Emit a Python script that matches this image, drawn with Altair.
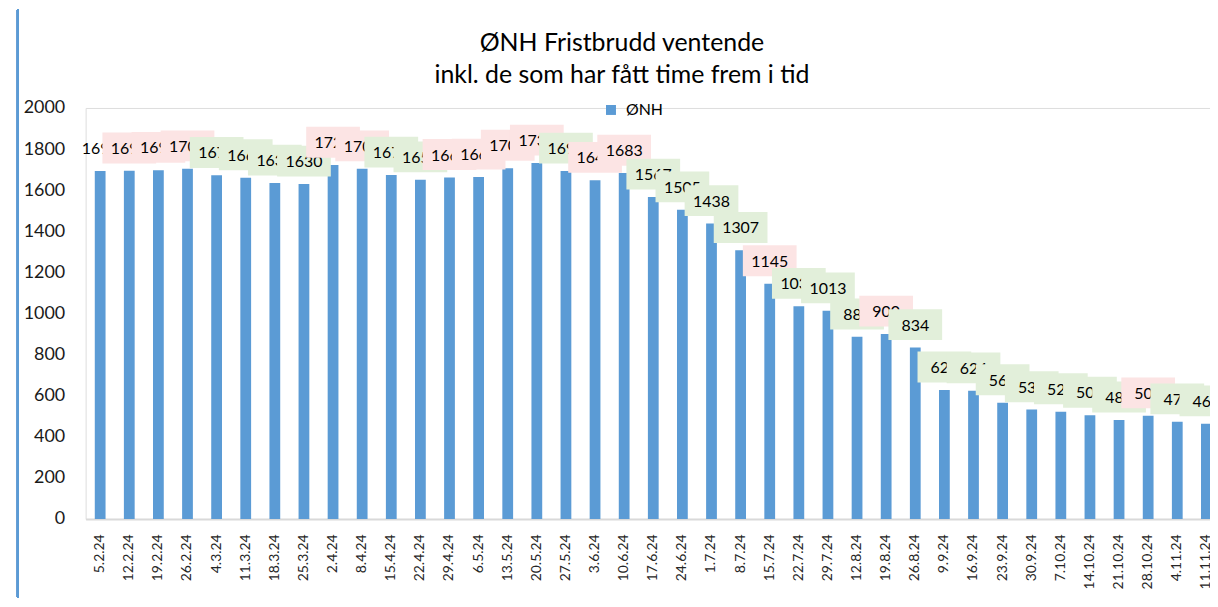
import altair as alt
import pandas as pd

dates = ["5.2.24", "12.2.24", "19.2.24", "26.2.24", "4.3.24", "11.3.24", "18.3.24", "25.3.24",
         "2.4.24", "8.4.24", "15.4.24", "22.4.24", "29.4.24", "6.5.24", "13.5.24", "20.5.24",
         "27.5.24", "3.6.24", "10.6.24", "17.6.24", "24.6.24", "1.7.24", "8.7.24", "15.7.24",
         "22.7.24", "29.7.24", "12.8.24", "19.8.24", "26.8.24", "9.9.24", "16.9.24", "23.9.24",
         "30.9.24", "7.10.24", "14.10.24", "21.10.24", "28.10.24", "4.11.24", "11.11.24"]

values = [1693, 1694, 1697, 1704, 1672, 1661, 1635, 1630,
          1722, 1704, 1674, 1651, 1662, 1664, 1707, 1732,
          1693, 1648, 1683, 1567, 1505, 1438, 1307, 1145,
          1035, 1013, 886, 900, 834, 628, 624, 566,
          532, 522, 505, 482, 502, 473, 463]

# label background per point: none / pink / green
label_bg = ["none", "pink", "pink", "pink", "green", "green", "green", "green",
            "pink", "pink", "green", "green", "pink", "pink", "pink", "pink",
            "green", "pink", "pink", "green", "green", "green", "green", "pink",
            "green", "green", "green", "pink", "green", "green", "green", "green",
            "green", "green", "green", "green", "pink", "green", "green"]

series_name = "ØNH"
title_lines = ["ØNH Fristbrudd ventende", "inkl. de som har fått time frem i tid"]
y_ticks = [0, 200, 400, 600, 800, 1000, 1200, 1400, 1600, 1800, 2000]

bg_colors = {"pink": "#FCE4E4", "green": "#E2EFDA"}
bar_color = "#5B9BD5"
FONT = "Lato"

df = pd.DataFrame({
    "i": list(range(len(dates))),
    "dato": dates,
    "verdi": values,
    "bg": label_bg,
    "serie": [series_name] * len(dates),
})

W = 1130
H = 413

x_enc = alt.X(
    "dato:N", sort=dates, title=None,
    scale=alt.Scale(range=[0, 1141], paddingInner=0.63, paddingOuter=0.315),
    axis=alt.Axis(labelAngle=270, labelAlign="right", labelBaseline="middle",
                  labelFont=FONT, labelFontSize=14, labelColor="#262626",
                  labelPadding=15, ticks=False, tickSize=0,
                  domainColor="#D9D9D9", domainWidth=2, grid=False,
                  labelOverlap=False),
)
y_enc = alt.Y(
    "verdi:Q", title=None,
    scale=alt.Scale(domain=[0, 2000], nice=False),
    axis=alt.Axis(values=y_ticks, format="d", labelFont=FONT, labelFontSize=18,
                  labelColor="#1a1a1a", labelPadding=21, ticks=False, tickSize=0,
                  domain=False, grid=False),
)

base = alt.Chart(df)

bars = base.mark_bar().encode(
    x=x_enc,
    y=y_enc,
    color=alt.Color("serie:N", scale=alt.Scale(range=[bar_color]),
                    legend=alt.Legend(orient="none", legendX=520, legendY=-6, title=None,
                                      symbolType="square", symbolSize=100,
                                      symbolStrokeWidth=0, labelFont=FONT,
                                      labelFontSize=16, labelColor="#000000",
                                      labelOffset=7, padding=0)),
)

box_path = "M-1,-0.574H1V0.574H-1Z"
layers = [bars]
for i, bg in enumerate(label_bg):
    sub = base.transform_filter(alt.datum.i == i)
    if bg in bg_colors:
        layers.append(
            sub.mark_point(shape=box_path, size=2916, filled=True, opacity=1,
                           color=bg_colors[bg], strokeWidth=0, yOffset=-23)
            .encode(x=x_enc, y=y_enc)
        )
    layers.append(
        sub.mark_text(dy=-22, font=FONT, fontSize=16, color="#000000", baseline="middle")
        .encode(x=x_enc, y=y_enc, text=alt.Text("verdi:Q", format="d"))
    )

border = alt.Chart(df).mark_rule(color=bar_color, strokeWidth=2).encode(
    x=alt.value(-68), y=alt.value(-99), y2=alt.value(H + 79)
)
layers.append(border)

chart = alt.layer(*layers).properties(
    width=W,
    height=H,
    title=alt.TitleParams(text=title_lines, font=FONT, fontSize=25, fontWeight="normal",
                          color="#000000", anchor="middle", frame="group", dx=-26,
                          offset=-80, lineHeight=32),
    autosize=alt.AutoSizeParams(type="none"),
    padding={"left": 78, "top": 99, "right": 0, "bottom": 79},
).configure_view(stroke=None).configure(background="white")

chart.save("out.html", embed_options={"renderer": "svg", "actions": False})
